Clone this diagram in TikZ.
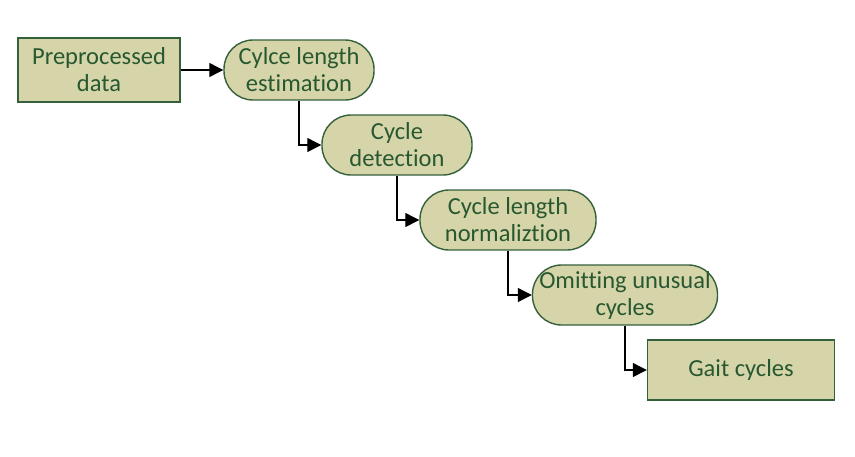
\documentclass[tikz,border=0pt]{standalone}
\usepackage{fontspec}
\setmainfont[Ligatures={NoCommon}]{Carlito}
\usepackage{tikz}
\usetikzlibrary{arrows.meta}

\definecolor{boxfill}{RGB}{214,213,170}
\definecolor{boxline}{RGB}{52,96,58}
\definecolor{boxtext}{RGB}{40,88,48}

\tikzset{
    stage/.style={draw=boxline, fill=boxfill, text=boxtext, line width=1.4pt,
        align=center, font=\fontsize{24.5}{27}\selectfont, inner sep=0pt},
    databox/.style={stage, rectangle, minimum width=162pt, minimum height=64pt},
    pill/.style={stage, rectangle, rounded corners=29pt, minimum height=60pt},
    link/.style={line width=1.2pt, -{Triangle[length=14pt, width=14pt]}},
}

\begin{document}
\begin{tikzpicture}[x=1pt, y=-1pt]
\useasboundingbox (0, 0) rectangle (855, 456);
\node[databox] (pre) at (99, 70) {Preprocessed\\data};
\node[pill, minimum width=150pt] (est) at (299, 70) {Cylce length\\estimation};
\node[pill, minimum width=150pt] (det) at (397, 145) {Cycle\\detection};
\node[pill, minimum width=176pt] (norm) at (508, 220) {Cycle length\\normaliztion};
\node[pill, minimum width=185pt] (omit) at (625, 295) {Omitting unusual\\cycles};
\node[databox, minimum width=187pt, minimum height=60pt] (gait) at (741, 370) {Gait cycles};
\draw[link] (pre) -- (est);
\draw[link] (est.south) |- (det.west);
\draw[link] (det.south) |- (norm.west);
\draw[link] (norm.south) |- (omit.west);
\draw[link] (omit.south) |- (gait.west);
\end{tikzpicture}
\end{document}
